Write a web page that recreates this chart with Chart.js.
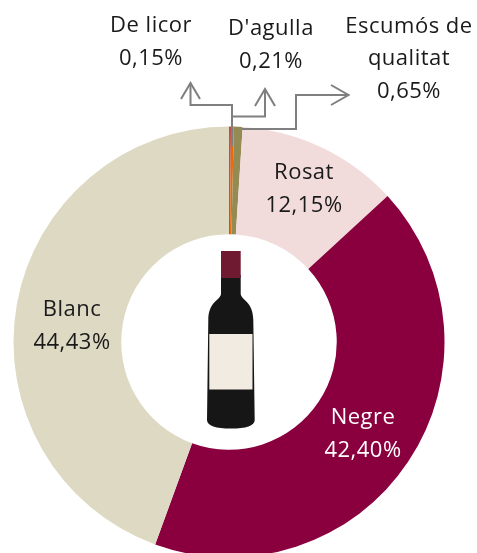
<!DOCTYPE html>
<html><head><meta charset="utf-8">
<style>html,body{margin:0;padding:0;background:#fff;overflow:hidden;width:477px;height:553px}
#w{position:absolute;left:0;top:0;width:477px;height:600px}</style>
<script src="https://cdn.jsdelivr.net/npm/chart.js@4"></script></head>
<body><div id="w"><canvas id="c" width="477" height="600"></canvas></div>
<script>
const categories = ["De licor","D'agulla","Escumós de qualitat","Rosat","Negre","Blanc"];
const shares = [0.15,0.21,0.65,12.15,42.40,44.43];
const sliceColours = ["#c0504d","#e46c0a","#948a54","#f2dcdb","#8a003f","#ddd9c3"];
const fmt = v => v.toFixed(2).replace('.',',') + '%';

const overlay = {
  id:'overlay',
  afterDatasetsDraw(chart){
    const ctx = chart.ctx;
    // bottle
    ctx.save();
    ctx.fillStyle='#161616';
    ctx.beginPath();
    ctx.moveTo(221,275);ctx.lineTo(221,294);
    ctx.bezierCurveTo(220,301,208.5,301,208.3,320);
    ctx.lineTo(207,420);
    ctx.bezierCurveTo(207,426,216,428.5,231,428.5);
    ctx.bezierCurveTo(246,428.5,254.7,426,254.7,420);
    ctx.lineTo(253.3,320);
    ctx.bezierCurveTo(253,301,241.7,301,240.7,294);
    ctx.lineTo(240.7,275);ctx.closePath();ctx.fill();
    ctx.fillStyle='#6f1a30';ctx.fillRect(221,251,19.7,27);
    ctx.fillStyle='#f2ebe1';ctx.fillRect(209.3,334,43.2,55.5);
    ctx.restore();
    // leaders
    ctx.save();
    ctx.strokeStyle='#7f7f7f';ctx.lineWidth=2;ctx.lineJoin='miter';
    const poly=p=>{ctx.beginPath();p.forEach((q,i)=>i?ctx.lineTo(q[0],q[1]):ctx.moveTo(q[0],q[1]));ctx.stroke();};
    poly([[232,146],[232,105],[190.5,105],[190.5,83]]);
    poly([[181,99],[190.5,83],[200,99]]);
    poly([[233,116.5],[265,116.5],[265,89]]);
    poly([[255,106],[265,89],[275,106]]);
    poly([[242,129],[296,129],[296,95],[348,95]]);
    poly([[331,85],[348.5,95],[331,105]]);
    ctx.restore();
    // labels
    const L=[
      [0,151,[26],['De licor'],'#1a1a1a'],
      [1,271,[29],["D'agulla"],'#1a1a1a'],
      [2,409,[27,59],['Escumós de','qualitat'],'#1a1a1a'],
      [3,304,[173],['Rosat'],'#1a1a1a'],
      [4,363,[418],['Negre'],'#ffffff'],
      [5,72,[310],['Blanc'],'#1a1a1a']
    ];
    ctx.save();
    ctx.font='22px "Open Sans"';ctx.letterSpacing='0.5px';ctx.textAlign='center';ctx.textBaseline='middle';
    L.forEach(([i,x,ys,lines,col])=>{
      ctx.fillStyle=col;
      lines.forEach((t,k)=>ctx.fillText(t,x,ys[k]));
      ctx.fillText(fmt(shares[i]),x,ys[ys.length-1]+32.5);
    });
    ctx.restore();
  }
};
new Chart(document.getElementById('c'),{
  type:'doughnut',
  data:{labels:categories,datasets:[{data:shares,backgroundColor:sliceColours,borderWidth:0}]},
  options:{
    responsive:false,animation:false,cutout:'50%',
    layout:{padding:{left:13.5,right:32.5,top:126.5,bottom:42.5}},
    plugins:{legend:{display:false},tooltip:{enabled:false},title:{display:false}}
  },
  plugins:[overlay]
});
</script></body></html>
